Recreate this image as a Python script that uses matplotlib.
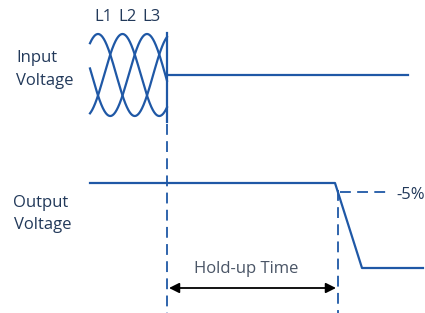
import numpy as np
import matplotlib
matplotlib.use("Agg")
import matplotlib.pyplot as plt

# Diagram coordinates are in picture pixels (x right, y down)
phase_labels = ["L1", "L2", "L3"]
phase_label_x = [103, 128, 152]
phase_shift_deg = [0, 120, 240]
wave_x = [90, 167]          # start / end of the three-phase sine section
wave_center = 75
wave_amp = 41
wave_period = 73.5
wave_first_peak = 98

input_x = [167, 408]
input_y = [75, 75]

output_x = [90, 335, 362, 423]
output_y = [183, 183, 268, 268]

drop_x = [340, 390]          # -5 % dashed reference
drop_y = [192, 192]

cut_x = 167                  # input loss moment
holdup_end_x = 338
holdup_arrow_y = 288

blue = "#1f58a6"
navy = "#22395a"

plt.rcParams["font.family"] = ["Open Sans", "DejaVu Sans"]
fs = 12

fig = plt.figure(figsize=(4.25, 3.13), dpi=100)
ax = fig.add_axes([0, 0, 1, 1])
ax.set_xlim(0, 425)
ax.set_ylim(313, 0)
ax.axis("off")

# three-phase input waves
xs = np.linspace(wave_x[0], wave_x[1], 300)
for shift in phase_shift_deg:
    ys = wave_center - wave_amp * np.cos(2 * np.pi * (xs - wave_first_peak) / wave_period
                                         - np.deg2rad(shift))
    ax.plot(xs, ys, color=blue, lw=1.6)
for lab, lx in zip(phase_labels, phase_label_x):
    ax.text(lx, 21, lab, color=navy, fontsize=fs, ha="center", va="baseline")

# input: cut off, then flat
ax.plot([cut_x, cut_x], [33, 122], color=blue, lw=1.6)
ax.plot(input_x, input_y, color=blue, lw=1.6)
ax.plot([cut_x, cut_x], [124, 313], color=blue, lw=1.3, dashes=[6, 3.5])

# output voltage
ax.plot(output_x, output_y, color=blue, lw=1.6)
ax.plot(drop_x, drop_y, color=blue, lw=1.3, dashes=[6, 3.5])
ax.text(396, 199, "-5%", color=navy, fontsize=fs, ha="left", va="baseline")
ax.plot([holdup_end_x, holdup_end_x], [190, 313], color=blue, lw=1.3, dashes=[6, 3.5])

# hold-up time arrow
ax.annotate("", xy=(cut_x + 2, holdup_arrow_y), xytext=(holdup_end_x - 2, holdup_arrow_y),
            arrowprops=dict(arrowstyle="<|-|>", color="black", lw=1.3,
                            mutation_scale=15, shrinkA=0, shrinkB=0))
ax.text(246, 273, "Hold-up Time", color="#4a5566", fontsize=fs, ha="center", va="baseline")

# row labels
ax.text(16, 62, "Input", color=navy, fontsize=fs, ha="left", va="baseline")
ax.text(16, 85, "Voltage", color=navy, fontsize=fs, ha="left", va="baseline")
ax.text(13, 207, "Output", color=navy, fontsize=fs, ha="left", va="baseline")
ax.text(14, 229, "Voltage", color=navy, fontsize=fs, ha="left", va="baseline")

fig.savefig("out.png", dpi=100)
